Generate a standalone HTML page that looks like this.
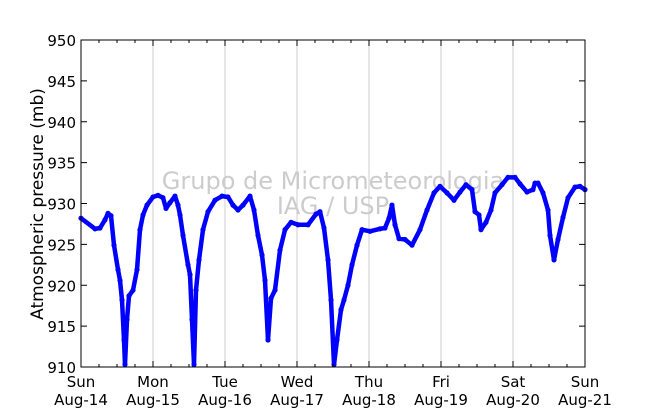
<!DOCTYPE html>
<html><head><meta charset="utf-8"><style>
body{margin:0;background:#fff;}
svg text{font-family:"DejaVu Sans","Liberation Sans",sans-serif;}
</style></head><body>
<svg id="chart" width="650" height="409" xmlns="http://www.w3.org/2000/svg">
<g id="grid"></g>
<text x="333" y="189" font-size="24" fill="#cccccc" text-anchor="middle">Grupo de Micrometeorologia</text>
<text x="333" y="214" font-size="24" fill="#cccccc" text-anchor="middle">IAG / USP</text>
<g id="series"></g>
<rect x="81" y="40" width="504" height="327" fill="none" stroke="#000" stroke-width="1"/>
<g id="axes"></g>
<text transform="translate(43,204) rotate(-90)" font-size="17" text-anchor="middle">Atmospheric pressure (mb)</text>
</svg>
<script>
const dayNames=["Sun","Mon","Tue","Wed","Thu","Fri","Sat","Sun"];
const dayDates=["Aug-14","Aug-15","Aug-16","Aug-17","Aug-18","Aug-19","Aug-20","Aug-21"];
const yTicks=[910,915,920,925,930,935,940,945,950];
const px=[81,95,100,105,108,111,114,118,120,122,124,125,127,129,133,137,140,143,147,153,158,163,166,170,175,178,180,183,188,190,192,194,196,199,203,208,215,222,228,233,238,243,250,254,258,262,265,268,271,275,280,285,291,298,308,316,320,324,328,331,334,337,341,344,348,352,357,362,370,380,385,389,392,395,399,405,412,420,427,434,440,447,454,460,466,472,475,479,481,486,491,495,502,508,515,520,527,533,535,538,543,548,550,554,558,563,568,575,580,585];
const timeDays=px.map(v=>(v-81)/72);
const pressure=[928.2,926.9,927.0,928.0,928.8,928.5,924.9,921.9,920.6,918.2,913.3,910.3,915.8,918.7,919.4,921.9,926.8,928.6,929.8,930.8,931.0,930.7,929.4,930.1,930.9,929.8,928.6,926.1,922.5,921.3,915.8,910.3,919.4,923.1,926.8,929.0,930.4,930.9,930.8,929.8,929.2,929.8,930.9,929.2,926.1,923.7,920.6,913.3,918.4,919.4,924.3,926.8,927.7,927.4,927.4,928.7,929.0,927.0,923.1,918.2,910.3,913.3,917.0,918.2,920.0,922.5,924.9,926.8,926.6,926.9,927.0,928.2,929.8,927.4,925.7,925.6,924.9,926.8,929.2,931.3,932.1,931.3,930.4,931.4,932.3,931.7,929.0,928.6,926.8,927.7,929.2,931.3,932.3,933.2,933.2,932.4,931.4,931.7,932.5,932.5,931.3,929.2,926.1,923.1,925.6,928.3,930.7,932.0,932.1,931.7];
const X0=81,X1=585,Y0=367,Y1=40;
const xS=d=>X0+d*(X1-X0)/7;
const yS=p=>Y0-(p-910)*(Y0-Y1)/40;
const NS="http://www.w3.org/2000/svg";
function mk(tag,attrs,parent){const e=document.createElementNS(NS,tag);for(const k in attrs)e.setAttribute(k,attrs[k]);parent.appendChild(e);return e;}
const grid=document.getElementById('grid'),axes=document.getElementById('axes'),series=document.getElementById('series');
for(let i=1;i<7;i++){const l=mk('line',{x1:xS(i),x2:xS(i),y1:Y1,y2:Y0,stroke:'#cccccc','stroke-width':1},grid);

}
for(let i=0;i<=28;i++){const x=xS(i/4);const len=i%4===0?6:3;
mk('line',{x1:x,x2:x,y1:Y0,y2:Y0-len,stroke:'#000'},axes);
mk('line',{x1:x,x2:x,y1:Y1,y2:Y1+len,stroke:'#000'},axes);}
dayNames.forEach((n,i)=>{const t=mk('text',{x:xS(i),y:387,'font-size':15,'text-anchor':'middle'},axes);t.textContent=n;


const t2=mk('text',{x:xS(i),y:405,'font-size':15,'text-anchor':'middle'},axes);t2.textContent=dayDates[i];

});
yTicks.forEach(v=>{const y=yS(v);
mk('line',{x1:X0,x2:X0+6,y1:y,y2:y,stroke:'#000'},axes);
mk('line',{x1:X1,x2:X1-6,y1:y,y2:y,stroke:'#000'},axes);
const t=mk('text',{x:76,y:y+6,'font-size':15,'text-anchor':'end'},axes);t.textContent=v;

});
const pts=timeDays.map((d,i)=>xS(d)+','+yS(pressure[i])).join(' ');
const pl=mk('polyline',{points:pts,fill:'none',stroke:'#0000ff','stroke-width':4.5,'stroke-linejoin':'round','stroke-linecap':'round'},series);


timeDays.forEach((d,i)=>{const c=mk('circle',{cx:xS(d),cy:yS(pressure[i]),r:2.6,fill:'#0000ff'},series);

});
</script>
</body></html>
